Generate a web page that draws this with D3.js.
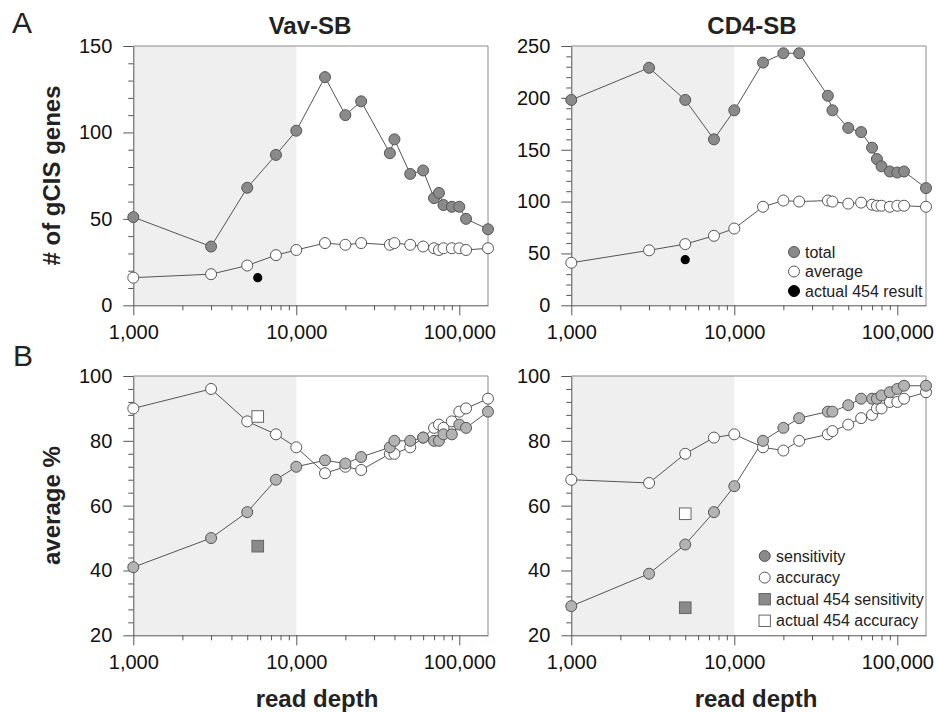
<!DOCTYPE html>
<html><head><meta charset="utf-8">
<script src="https://cdn.jsdelivr.net/npm/d3@7"></script>
<style>
body{margin:0;background:#fff}
svg{display:block}
text{font-family:"Liberation Sans",Arial,Helvetica,sans-serif}
</style></head>
<body><svg id="c" width="936" height="713"></svg>
<script>
// ---- data ----
const readDepth = [1000, 3000, 5000, 7500, 10000, 15000, 20000, 25000, 37500, 40000, 50000, 60000, 70000, 75000, 80000, 90000, 100000, 110000, 150000];
const vavTotal   = [51, 34, 68, 87, 101, 132, 110, 118, 88, 96, 76, 78, 62, 65, 58, 57, 57, 50, 44];
const vavAverage = [16, 18, 23, 29, 32, 36, 35, 36, 35, 36, 35, 34, 33, 32, 33, 33, 33, 32, 33];
const cd4Total   = [198, 229, 198, 160, 188, 234, 243, 243, 202, 188, 171, 167, 152, 141, 134, 129, 128, 129, 113];
const cd4Average = [41, 53, 59, 67, 74, 95, 101, 100, 101, 100, 98, 99, 97, 96, 96, 95, 96, 96, 95];
const vavSensitivity = [41, 50, 58, 68, 72, 74, 73, 75, 78, 80, 80, 81, 80, 80, 82, 82, 85, 84, 89];
const vavAccuracy    = [90, 96, 86, 82, 78, 70, 72, 71, 76, 76, 78, 81, 84, 85, 84, 86, 89, 90, 93];
const cd4Sensitivity = [29, 39, 48, 58, 66, 80, 84, 87, 89, 89, 91, 93, 93, 93, 94, 95, 96, 97, 97];
const cd4Accuracy    = [68, 67, 76, 81, 82, 78, 77, 80, 82, 83, 85, 87, 88, 90, 90, 92, 92, 93, 95];
// actual 454 results [depth, value]
const vav454Result = [5800, 16];
const cd4454Result = [5000, 44];
const vav454Sensitivity = [5800, 47.5];
const vav454Accuracy = [5800, 87.5];
const cd4454Sensitivity = [5000, 28.5];
const cd4454Accuracy = [5000, 57.5];
const xMajorTicks = [1000, 10000, 100000];
const panelTitles = ["Vav-SB", "CD4-SB"];
const legendTop = ["total", "average", "actual 454 result"];
const legendBottom = ["sensitivity", "accuracy", "actual 454 sensitivity", "actual 454 accuracy"];

const svg = d3.select("#c");
const fmt = d3.format(",");
const lineCol = "#555", frameCol = "#8a8a8a";
const R = 5.5;

function panel(o) {
  const x = d3.scaleLog().domain([1000, 150000]).range([o.x0, o.x0 + 354.7]);
  const y = d3.scaleLinear().domain(o.yDomain).range([o.yb, o.yt]);
  const g = svg.append("g");
  const [xa, xb] = x.range();
  // shading
  g.append("rect").attr("x", x(1000)).attr("y", o.yt).attr("width", x(10000) - x(1000)).attr("height", o.yb - o.yt).attr("fill", "#efefef");
  // frame
  g.append("line").attr("x1", xa).attr("x2", xb).attr("y1", o.yt).attr("y2", o.yt).attr("stroke", frameCol);
  g.append("line").attr("x1", xb).attr("x2", xb).attr("y1", o.yt).attr("y2", o.yb).attr("stroke", frameCol);
  // x minor
  const xMinor = [];
  [1000, 10000, 100000].forEach(d => { for (let k = 2; k <= 9; k++) if (d * k <= 150000) xMinor.push(d * k); });
  g.append("g").attr("transform", `translate(0,${o.yb})`)
    .call(d3.axisBottom(x).tickValues(xMinor).tickSize(5).tickSizeOuter(0).tickFormat(""))
    .call(a => a.select(".domain").remove())
    .call(a => a.selectAll("line").attr("stroke", lineCol));
  g.append("g").attr("transform", `translate(0,${o.yb})`)
    .call(d3.axisBottom(x).tickValues(xMajorTicks).tickSize(10).tickSizeOuter(0).tickPadding(10).tickFormat(fmt))
    .call(a => a.select(".domain").attr("stroke", lineCol))
    .call(a => a.selectAll("line").attr("stroke", lineCol))
    .call(a => a.selectAll("text").attr("font-size", 20).attr("fill", "#111").style("font-family", '"Liberation Sans",Arial,sans-serif'));
  // y minor
  const yMinor = d3.range(o.yDomain[0], o.yDomain[1] + 0.01, o.yMinor).filter(v => Math.abs(v % o.yMajor) > 1e-6 && Math.abs(v % o.yMajor - o.yMajor) > 1e-6);
  g.append("g").attr("transform", `translate(${xa},0)`)
    .call(d3.axisLeft(y).tickValues(yMinor).tickSize(5).tickSizeOuter(0).tickFormat(""))
    .call(a => a.select(".domain").remove())
    .call(a => a.selectAll("line").attr("stroke", lineCol));
  g.append("g").attr("transform", `translate(${xa},0)`)
    .call(d3.axisLeft(y).tickValues(d3.range(o.yDomain[0], o.yDomain[1] + 0.01, o.yMajor)).tickSize(10).tickSizeOuter(0).tickPadding(11))
    .call(a => a.select(".domain").attr("stroke", lineCol))
    .call(a => a.selectAll("line").attr("stroke", lineCol))
    .call(a => a.selectAll("text").attr("font-size", 20).attr("fill", "#111").style("font-family", '"Liberation Sans",Arial,sans-serif'));
  // series
  const line = d3.line().x(d => x(d[0])).y(d => y(d[1]));
  o.series.forEach(s => {
    const pts = readDepth.map((d, i) => [d, s.values[i]]);
    g.append("path").datum(pts).attr("d", line).attr("fill", "none").attr("stroke", lineCol).attr("stroke-width", 1);
  });
  o.series.forEach(s => {
    const pts = readDepth.map((d, i) => [d, s.values[i]]);
    g.selectAll(null).data(pts).join("circle")
      .attr("cx", d => x(d[0])).attr("cy", d => y(d[1])).attr("r", R)
      .attr("fill", s.fill).attr("stroke", lineCol).attr("stroke-width", 1);
  });
  (o.extras || []).forEach(e => {
    if (e.type === "dot") {
      g.append("circle").attr("cx", x(e.p[0])).attr("cy", y(e.p[1])).attr("r", 4.6).attr("fill", "#000");
    } else {
      g.append("rect").attr("x", x(e.p[0]) - 5.8).attr("y", y(e.p[1]) - 5.8).attr("width", 11.6).attr("height", 11.6)
        .attr("fill", e.fill).attr("stroke", "#666").attr("stroke-width", 1);
    }
  });
  return {x, y, g};
}

const topL = panel({x0: 133.3, yt: 46, yb: 305.3, yDomain: [0, 150], yMajor: 50, yMinor: 10,
  series: [{values: vavTotal, fill: "#8a8a8a"}, {values: vavAverage, fill: "#fff"}],
  extras: [{type: "dot", p: vav454Result}]});
const topR = panel({x0: 571.3, yt: 46, yb: 305.3, yDomain: [0, 250], yMajor: 50, yMinor: 10,
  series: [{values: cd4Total, fill: "#8a8a8a"}, {values: cd4Average, fill: "#fff"}],
  extras: [{type: "dot", p: cd4454Result}]});
const botL = panel({x0: 133.3, yt: 376, yb: 635.3, yDomain: [20, 100], yMajor: 20, yMinor: 4,
  series: [{values: vavAccuracy, fill: "#fff"}, {values: vavSensitivity, fill: "#b3b3b3"}],
  extras: [{type: "sq", p: vav454Accuracy, fill: "#fff"}, {type: "sq", p: vav454Sensitivity, fill: "#8a8a8a"}]});
const botR = panel({x0: 571.3, yt: 376, yb: 635.3, yDomain: [20, 100], yMajor: 20, yMinor: 4,
  series: [{values: cd4Accuracy, fill: "#fff"}, {values: cd4Sensitivity, fill: "#b3b3b3"}],
  extras: [{type: "sq", p: cd4454Accuracy, fill: "#fff"}, {type: "sq", p: cd4454Sensitivity, fill: "#8a8a8a"}]});

// titles
svg.append("text").attr("x", 310).attr("y", 34).attr("text-anchor", "middle").attr("font-size", 24).attr("font-weight", "bold").attr("fill", "#222").text(panelTitles[0]);
svg.append("text").attr("x", 752).attr("y", 34).attr("text-anchor", "middle").attr("font-size", 24).attr("font-weight", "bold").attr("fill", "#222").text(panelTitles[1]);
svg.append("text").attr("x", 12).attr("y", 33).attr("font-size", 30).attr("fill", "#222").text("A");
svg.append("text").attr("x", 13).attr("y", 366).attr("font-size", 30).attr("fill", "#222").text("B");
svg.append("text").attr("transform", "translate(60,175.5) rotate(-90)").attr("text-anchor", "middle").attr("font-size", 24).attr("font-weight", "bold").attr("fill", "#222").text("# of gCIS genes");
svg.append("text").attr("transform", "translate(60,505.6) rotate(-90)").attr("text-anchor", "middle").attr("font-size", 24).attr("font-weight", "bold").attr("fill", "#222").text("average %");
svg.append("text").attr("x", 317).attr("y", 707).attr("text-anchor", "middle").attr("font-size", 24).attr("font-weight", "bold").attr("fill", "#222").text("read depth");
svg.append("text").attr("x", 756).attr("y", 707).attr("text-anchor", "middle").attr("font-size", 24).attr("font-weight", "bold").attr("fill", "#222").text("read depth");

// legend top
const lt = svg.append("g");
const ltFill = ["#8a8a8a", "#fff", "#000"];
legendTop.forEach((t, i) => {
  const yy = 252 + i * 19.5;
  lt.append("circle").attr("cx", 794).attr("cy", yy).attr("r", R).attr("fill", ltFill[i]).attr("stroke", i === 2 ? "#000" : lineCol);
  lt.append("text").attr("x", 805).attr("y", yy).attr("dy", "0.35em").attr("font-size", 16).attr("fill", "#222").text(t);
});
// legend bottom
const lb = svg.append("g");
const lbFill = ["#8a8a8a", "#fff", "#8a8a8a", "#fff"];
legendBottom.forEach((t, i) => {
  const yy = 556 + i * 21.6;
  if (i < 2) lb.append("circle").attr("cx", 764.7).attr("cy", yy).attr("r", R).attr("fill", lbFill[i]).attr("stroke", lineCol);
  else lb.append("rect").attr("x", 759).attr("y", yy - 5.7).attr("width", 11.4).attr("height", 11.4).attr("fill", lbFill[i]).attr("stroke", "#666");
  lb.append("text").attr("x", 776).attr("y", yy).attr("dy", "0.35em").attr("font-size", 16).attr("fill", "#222").text(t);
});
</script></body></html>
